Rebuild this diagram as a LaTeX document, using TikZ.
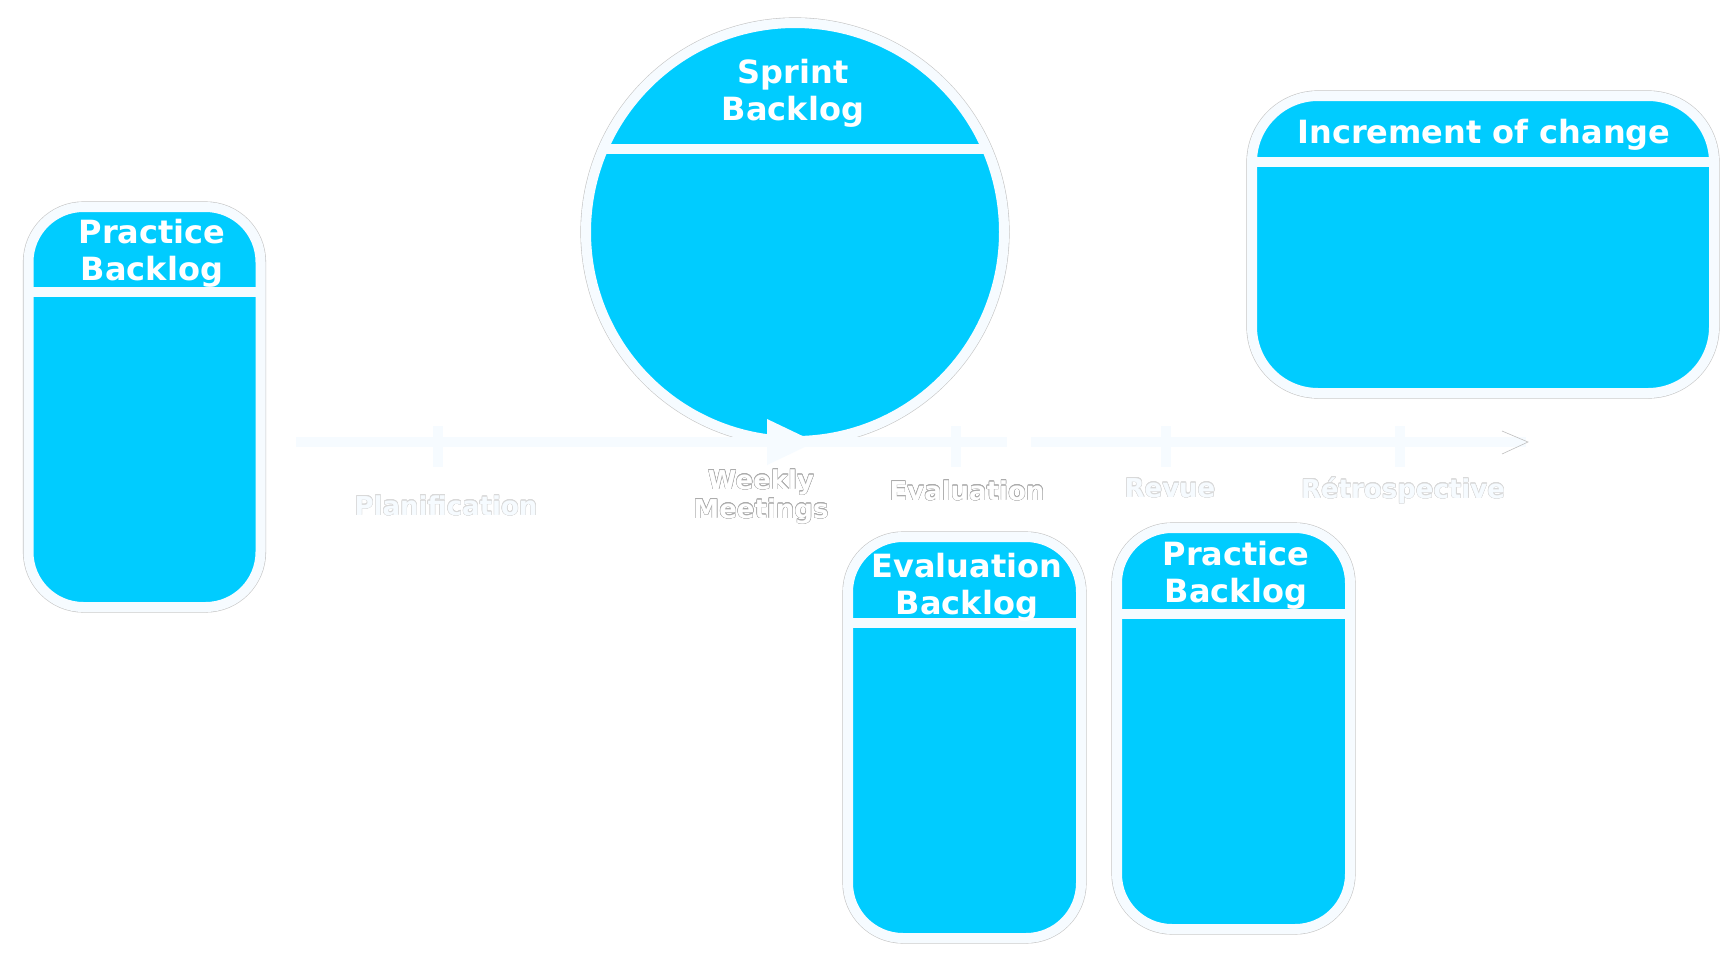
\documentclass[tikz,border=0pt]{standalone}
\usepackage{fontspec}
\setmainfont{DejaVu Sans}
\usepackage{contour}
\usetikzlibrary{arrows.meta,calc}
\definecolor{cy}{HTML}{00CCFF}
\definecolor{lt}{HTML}{F6FBFF}
\contourlength{0.2pt}
\contournumber{16}
\tikzset{
  panel/.style={draw=lt, fill=cy, line width=5pt, inner sep=0pt, outer sep=0pt,
                preaction={draw=gray!45, line width=5.6pt}},
  rbox/.style={panel, rectangle, rounded corners=27.5pt},
  divider/.style={draw=lt, line width=5pt},
  title/.style={text=white, font=\bfseries\fontsize{16}{18.5}\selectfont, align=center, anchor=base, inner sep=0pt},
  phase/.style={font=\bfseries\fontsize{13}{14.5}\selectfont, align=center, anchor=base, inner sep=0pt},
  axis/.style={draw=lt, line width=5pt},
  tickline/.style={draw=lt, line width=5pt},
}
\begin{document}
\begin{tikzpicture}[x=0.5pt, y=-0.5pt]
\useasboundingbox (0,0) rectangle (1736,954);
\fill[white] (0,0) rectangle (1736,954);

% panels
\node[panel, circle, minimum size=209pt] (sb) at (795,232) {};
\coordinate (sbl) at ($(sb.center)+(203.4:209)$);
\coordinate (sbr) at ($(sb.center)+(-23.4:209)$);
\draw[divider] (sbl) -- (sbr);
\node[title] (sbt) at (793,120) {Sprint\\Backlog};

\node[rbox, minimum width=116pt, minimum height=200pt] (pb1) at (144.5,407) {};
\draw[divider] ([yshift=-42.5pt]pb1.north west) -- ([yshift=-42.5pt]pb1.north east);
\node[title] (pb1t) at (152,280) {Practice\\Backlog};

\node[rbox, rounded corners=33pt, minimum width=231pt, minimum height=148.5pt] (ic) at (1483,244.5) {};
\draw[divider] ([yshift=-33pt]ic.north west) -- ([yshift=-33pt]ic.north east);
\node[title] (ict) at (1484,143) {Increment of change};

\node[rbox, minimum width=116.5pt, minimum height=200.5pt] (eb) at (964.5,737.5) {};
\draw[divider] ([yshift=-43pt]eb.north west) -- ([yshift=-43pt]eb.north east);
\node[title] (ebt) at (967,614) {Evaluation\\Backlog};

\node[rbox, minimum width=116.5pt, minimum height=200.5pt] (pb2) at (1233.5,728.5) {};
\draw[divider] ([yshift=-43pt]pb2.north west) -- ([yshift=-43pt]pb2.north east);
\node[title] (pb2t) at (1236,602) {Practice\\Backlog};

% timeline
\coordinate (t0) at (296,442);
\coordinate (t1) at (816,442);
\coordinate (t2) at (1007,442);
\coordinate (t3) at (1031,442);
\coordinate (t4) at (1526,442);
\draw[axis] (t0) -- (t2);
\draw[axis, -{Triangle[length=24.5pt, width=21.5pt]}] (t0) -- (t1);
\draw[axis] (t3) -- (t4);
\draw[gray!50, line width=0.3pt] ($(t4)+(-24,-11)$) -- ($(t4)+(2,0)$) -- ($(t4)+(-24,12)$);
\foreach \x/\n in {438/1, 956/2, 1166/3, 1400/4} {
  \coordinate (k\n a) at (\x,426);
  \coordinate (k\n b) at (\x,467);
  \draw[tickline] (k\n a) -- (k\n b);
}

% phase labels
\node[phase, text=lt] (lp) at (446,515) {\contour{gray!30}{Planification}};
\node[phase, text=white] (lw) at (761,518) {\contour{gray!65}{Weekly}\\\contour{gray!65}{Meetings}};
\node[phase, text=white] (le) at (967,500) {\contour{gray!65}{Evaluation}};
\node[phase, text=lt] (lr) at (1170,497) {\contour{gray!30}{Revue}};
\node[phase, text=lt] (lrt) at (1403,498) {\contour{gray!30}{Rétrospective}};
\end{tikzpicture}
\end{document}
